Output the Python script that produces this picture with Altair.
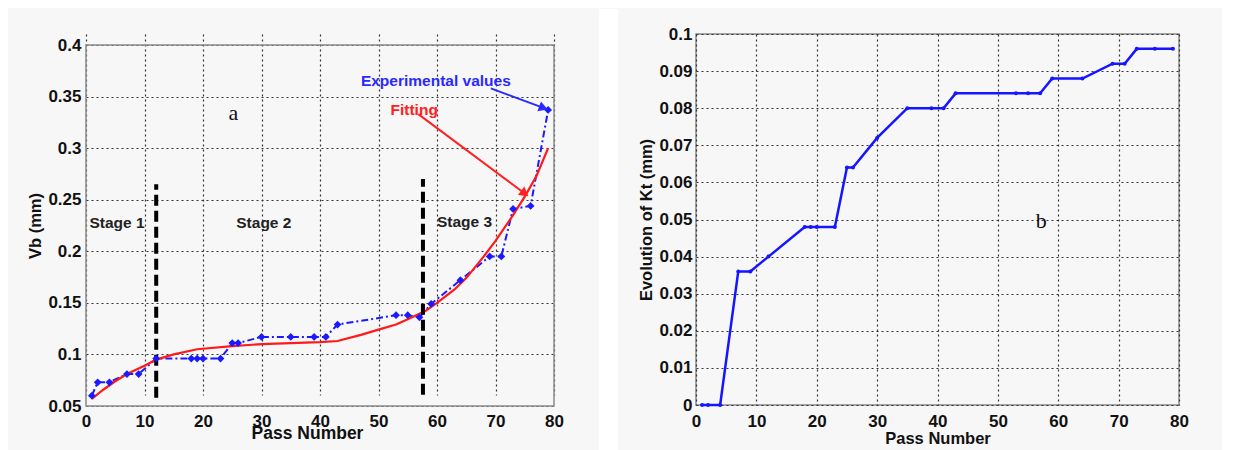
import altair as alt
import pandas as pd

# ---------------- data ----------------
passes = [1, 2, 4, 7, 9, 12, 18, 19, 20, 23, 25, 26, 30, 35, 39, 41, 43,
          53, 55, 57, 59, 64, 69, 71, 73, 76, 79]
vb_exp = [0.060, 0.073, 0.073, 0.081, 0.081, 0.096, 0.096, 0.096, 0.096, 0.096,
          0.111, 0.111, 0.117, 0.117, 0.117, 0.117, 0.129, 0.138, 0.138, 0.136,
          0.149, 0.172, 0.195, 0.195, 0.241, 0.244, 0.337]
kt = [0.0, 0.0, 0.0, 0.036, 0.036, 0.040, 0.048, 0.048, 0.048, 0.048,
      0.064, 0.064, 0.072, 0.080, 0.080, 0.080, 0.084, 0.084, 0.084, 0.084,
      0.088, 0.088, 0.092, 0.092, 0.096, 0.096, 0.096]

fit_x = [1, 3, 5, 7, 10, 12, 15, 19, 25, 30, 35, 40, 43, 47, 50, 53, 55,
         58, 60, 63, 65, 68, 70, 73, 75, 77, 79]
fit_y = [0.057, 0.066, 0.074, 0.081, 0.089, 0.095, 0.100, 0.105, 0.108, 0.110,
         0.111, 0.112, 0.113, 0.119, 0.124, 0.129, 0.134, 0.142, 0.150, 0.163,
         0.174, 0.195, 0.210, 0.235, 0.253, 0.273, 0.300]

stage_line_x = [12, 57.6]
stage_line_y0 = [0.058, 0.061]
stage_line_y1 = [0.265, 0.270]

stage_labels = ["Stage 1", "Stage 2", "Stage 3"]
stage_label_x = [5.3, 30.4, 64.7]
stage_label_y = [0.227, 0.227, 0.228]

legend_texts = ["Experimental values", "Fitting"]
legend_x = [59.8, 56.1]
legend_y = [0.365, 0.337]
legend_colors = ["#2a2aff", "#ff2020"]
arrow_x0 = [69.2, 56.8]
arrow_y0 = [0.358, 0.333]
arrow_x1 = [78.2, 75.0]
arrow_y1 = [0.339, 0.256]
arrow_angle = [20, 37]

x_ticks = [0, 10, 20, 30, 40, 50, 60, 70, 80]
vb_ticks = [0.05, 0.1, 0.15, 0.2, 0.25, 0.3, 0.35, 0.4]
kt_ticks = [0, 0.01, 0.02, 0.03, 0.04, 0.05, 0.06, 0.07, 0.08, 0.09, 0.1]
vb_domain = [0.05, 0.4]
kt_domain = [0, 0.1]
x_domain = [0, 80]

FONT = "Liberation Sans"

exp_df = pd.DataFrame({"pass": passes, "vb": vb_exp})
kt_df = pd.DataFrame({"pass": passes, "kt": kt})
fit_df = pd.DataFrame({"pass": fit_x, "vb": fit_y})
stage_df = pd.DataFrame({"x": stage_line_x, "y0": stage_line_y0, "y1": stage_line_y1})
slab_df = pd.DataFrame({"x": stage_label_x, "y": stage_label_y, "t": stage_labels})
leg_df = pd.DataFrame({"x": legend_x, "y": legend_y, "t": legend_texts, "c": legend_colors,
                       "x0": arrow_x0, "y0": arrow_y0, "x1": arrow_x1, "y1": arrow_y1,
                       "a": arrow_angle})
frame_df = pd.DataFrame({"x0": [x_domain[0]], "x1": [x_domain[1]],
                         "y0": [vb_domain[0]], "y1": [vb_domain[1]]})

LH = 372          # left chart height (plot area spans from 11 to 372)
xs_left = alt.Scale(domain=x_domain, nice=False)
ys_left = alt.Scale(domain=vb_domain, range=[LH, 11], nice=False)

XAL = alt.Axis(values=x_ticks, format="d", title="Pass Number",
               titleFontSize=17.5, titleX=221, titleY=27,
               titleBaseline="middle", labelPadding=7,
               labelOverlap=False, labelFlush=False)
YAL = alt.Axis(values=vb_ticks, format=".2~f", title="Vb (mm)",
               titleX=-51, titleY=11 + 361 / 2, titleBaseline="middle",
               labelOverlap=False, labelFlush=False)


def LX(f):
    return alt.X(f, scale=xs_left, axis=XAL)


def LY(f):
    return alt.Y(f, scale=ys_left, axis=YAL)


# white strip separating the two grey panels
gap = alt.Chart(pd.DataFrame({"g": [0]})).mark_rect(color="white").encode(
    x=alt.value(513), x2=alt.value(532), y=alt.value(-25), y2=alt.value(420))

frame = alt.Chart(frame_df).mark_rect(fillOpacity=0, stroke="#8a8a8a",
                                      strokeWidth=1.5).encode(
    x=LX("x0:Q"), x2="x1:Q", y=LY("y0:Q"), y2="y1:Q")
exp_line = alt.Chart(exp_df).mark_line(color="#1a1aff", strokeWidth=2,
                                       strokeDash=[7, 3, 2, 3]).encode(
    x=LX("pass:Q"), y=LY("vb:Q"))
exp_pts = alt.Chart(exp_df).mark_point(shape="diamond", filled=True, size=60,
                                       color="#1a1aff", opacity=1).encode(
    x=LX("pass:Q"), y=LY("vb:Q"))
fit_line = alt.Chart(fit_df).mark_line(color="#ff1a1a", strokeWidth=2.2).encode(
    x=LX("pass:Q"), y=LY("vb:Q"))
stage_lines = alt.Chart(stage_df).mark_rule(color="black", strokeWidth=4,
                                            strokeDash=[11, 5]).encode(
    x=LX("x:Q"), y=LY("y0:Q"), y2="y1:Q")
stage_text = alt.Chart(slab_df).mark_text(font=FONT, fontWeight="bold", fontSize=15.5,
                                          color="#222").encode(
    x=LX("x:Q"), y=LY("y:Q"), text="t:N")
leg_text = alt.Chart(leg_df).mark_text(font=FONT, fontWeight="bold", fontSize=15.5).encode(
    x=LX("x:Q"), y=LY("y:Q"), text="t:N", color=alt.Color("c:N", scale=None))
arrows = alt.Chart(leg_df).mark_rule(strokeWidth=2).encode(
    x=LX("x0:Q"), y=LY("y0:Q"), x2="x1:Q", y2="y1:Q",
    color=alt.Color("c:N", scale=None))
heads = alt.Chart(leg_df).mark_point(shape="triangle-right", filled=True, size=110,
                                     opacity=1).encode(
    x=LX("x1:Q"), y=LY("y1:Q"), angle=alt.Angle("a:Q", scale=None),
    color=alt.Color("c:N", scale=None))
label_a = alt.Chart(pd.DataFrame({"x": [25.2], "y": [0.334], "t": ["a"]})).mark_text(
    font="Liberation Serif", fontSize=22, color="#111").encode(
    x=LX("x:Q"), y=LY("y:Q"), text="t:N")

left = alt.layer(gap, frame, exp_line, fit_line, stage_lines, exp_pts, stage_text,
                 arrows, heads, leg_text, label_a).properties(
    width=468, height=LH, view=alt.ViewBackground(stroke="transparent"))

# ---------------- right panel ----------------
xs_right = alt.Scale(domain=x_domain, nice=False)
ys_right = alt.Scale(domain=kt_domain, nice=False)

XAR = alt.Axis(values=x_ticks, format="d", title="Pass Number",
               titleY=33, titleBaseline="middle", labelPadding=8,
               labelOverlap=False, labelFlush=False)
YAR = alt.Axis(values=kt_ticks, format=".2~f", title="Evolution of Kt (mm)",
               titleX=-50, titleBaseline="middle", labelPadding=4,
               labelOverlap=False, labelFlush=False, tickCount=11)


def RX(f):
    return alt.X(f, scale=xs_right, axis=XAR)


def RY(f):
    return alt.Y(f, scale=ys_right, axis=YAR)


kt_line = alt.Chart(kt_df).mark_line(color="#1515ff", strokeWidth=2.5).encode(
    x=RX("pass:Q"), y=RY("kt:Q"))
kt_pts = alt.Chart(kt_df).mark_point(filled=True, size=16, color="#1515ff",
                                     opacity=1).encode(
    x=RX("pass:Q"), y=RY("kt:Q"))
label_b = alt.Chart(pd.DataFrame({"x": [57.2], "y": [0.0495], "t": ["b"]})).mark_text(
    font="Liberation Serif", fontSize=22, color="#111").encode(
    x=RX("x:Q"), y=RY("y:Q"), text="t:N")
right = alt.layer(kt_line, kt_pts, label_b).properties(width=483, height=371)

chart = alt.hconcat(left, right, spacing=18).resolve_scale(
    x="independent", y="independent"
).configure(
    background="#f7f7f7",
    padding={"left": 18, "top": 0, "right": 32, "bottom": 0},
).configure_view(
    stroke="#8a8a8a", strokeWidth=1.5
).configure_axis(
    labelFont=FONT, labelFontSize=17, labelFontWeight="bold", labelColor="#111",
    titleFont=FONT, titleFontSize=16.5, titleFontWeight="bold", titleColor="#111",
    grid=True, gridColor="#333", gridDash=[2, 3], gridWidth=1.2, gridOpacity=1,
    domain=False, ticks=False, labelPadding=5, labelOverlap=False, labelFlush=False,
)

chart.save("out.html", embed_options={"renderer": "svg", "actions": False})
